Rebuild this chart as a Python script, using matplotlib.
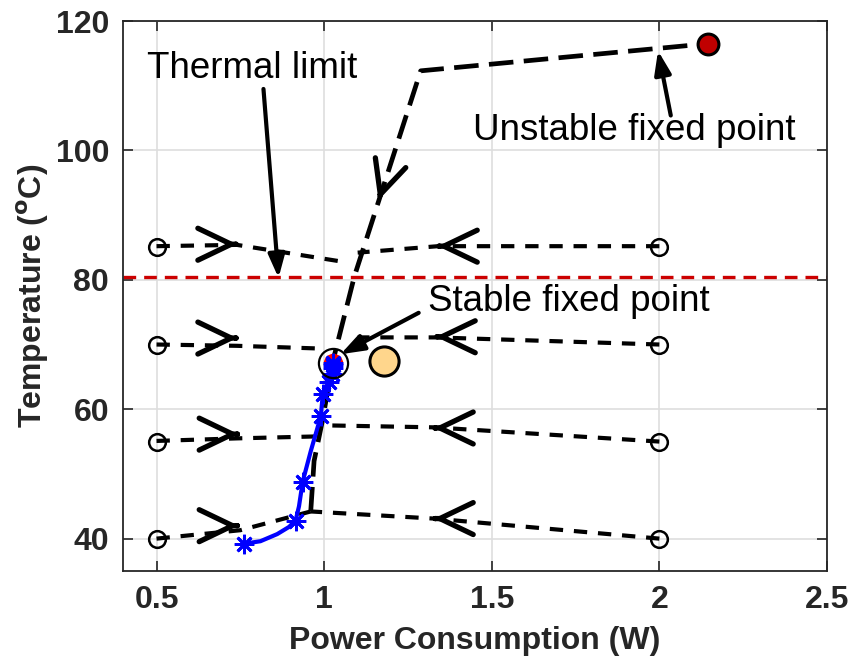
import numpy as np
import matplotlib.pyplot as plt

plt.rcParams['font.family'] = ['Liberation Sans', 'DejaVu Sans']

# 初始点温度 (左侧 0.5W, 右侧 2W)
start_T = [85, 70, 55, 40]
left_P0 = 0.5
right_P0 = 2.0

# 各条轨迹折线 (功耗 W, 温度 C)
left_P = [[0.5, 0.74, 1.055], [0.5, 0.74, 0.975], [0.5, 0.745, 0.98], [0.5, 0.75, 0.96]]
left_T = [[85.2, 85.4, 82.8], [70.0, 69.8, 69.4], [55.1, 55.5, 55.8], [40.0, 41.3, 44.2]]
right_P = [[2.0, 1.34, 1.10], [2.0, 1.333, 1.10], [2.0, 1.327, 1.01], [2.0, 1.327, 0.96]]
right_T = [[85.2, 85.2, 84.2], [70.0, 71.1, 71.1], [55.0, 57.2, 57.5], [40.0, 43.1, 44.2]]

# 箭头位置
left_tip_P = [0.741, 0.741, 0.745, 0.745]
left_tip_T = [85.5, 71.0, 56.15, 42.0]
right_tip_P = [1.339, 1.333, 1.327, 1.327]
right_tip_T = [85.2, 71.2, 57.1, 43.1]

# 稳定点到不稳定点的曲线
null_P = [0.96, 0.97, 0.996, 1.025, 1.09, 1.288, 2.145]
null_T = [44.2, 52.0, 58.5, 67.2, 80.5, 112.3, 116.5]
null_tip = (1.162, 92.3)

# 蓝色实际轨迹
blue_P = [0.76, 0.81, 0.86, 0.895, 0.915, 0.925, 0.936, 0.96, 0.99, 0.996, 1.015, 1.022, 1.026]
blue_T = [39.2, 39.6, 40.7, 41.8, 42.8, 45.0, 48.8, 53.5, 58.9, 62.3, 64.2, 65.5, 66.9]
blue_mark_P = [0.76, 0.915, 0.936, 0.99, 0.996, 1.015, 1.022, 1.025, 1.026, 1.026]
blue_mark_T = [39.2, 42.8, 48.8, 58.9, 62.3, 64.2, 65.5, 66.4, 66.9, 67.1]

stable_pt = (1.025, 67.2)
unstable_pt = (2.145, 116.5)
orange_pt = (1.178, 67.4)
thermal_limit = 80.5

fig = plt.figure(figsize=(8.53, 6.63), dpi=100)
ax = fig.add_axes([0.1442, 0.1388, 0.8253, 0.8295])

dash_kw = dict(color='k', lw=3.0, dashes=(3.2, 2.6), solid_capstyle='butt')
for i in range(len(start_T)):
    ax.plot(left_P[i], left_T[i], **dash_kw, zorder=3)
    ax.plot(right_P[i], right_T[i], **dash_kw, zorder=3)
    ax.plot(left_P0, start_T[i], 'o', ms=12, mfc='none', mec='k', mew=1.8, zorder=4)
    ax.plot(right_P0, start_T[i], 'o', ms=12, mfc='none', mec='k', mew=1.8, zorder=4)

ax.plot(null_P, null_T, color='k', lw=3.4, dashes=(5.2, 2.2), zorder=3)

ax.axhline(thermal_limit, color='#CC0000', lw=2.4, dashes=(3.8, 2.4), zorder=2)


def chevron(tip, dx, dy):
    ax.annotate('', xy=tip, xytext=(tip[0] - dx, tip[1] - dy),
                arrowprops=dict(arrowstyle='->,head_length=2.4,head_width=1.15',
                                lw=3.8, color='k', shrinkA=0, shrinkB=0,
                                mutation_scale=10, capstyle='round', joinstyle='round'),
                zorder=5)


for i in range(len(start_T)):
    chevron((left_tip_P[i], left_tip_T[i]), 0.005, 0)
    chevron((right_tip_P[i], right_tip_T[i]), -0.005, 0)
chevron(null_tip, (1.09 - 1.288) * 0.03, (80.5 - 112.3) * 0.03)

# 蓝色轨迹
ax.plot(stable_pt[0], stable_pt[1], 'o', ms=13, color='#FF0000', zorder=5)
ax.plot(blue_P, blue_T, color='#0000FF', lw=3.0, zorder=6)
ax.plot(blue_mark_P, blue_mark_T, ls='none', marker=(8, 2, 0), ms=14, mew=2.0,
        color='#0000FF', zorder=6)
ax.plot(stable_pt[0], stable_pt[1], 'o', ms=21, mfc='none', mec='k', mew=1.6, zorder=7)

ax.plot(orange_pt[0], orange_pt[1], 'o', ms=21, mfc='#FFD68C', mec='k', mew=2.2, zorder=7)
ax.plot(unstable_pt[0], unstable_pt[1], 'o', ms=15, mfc='#C00000', mec='k', mew=2.2, zorder=7)

# 标注
arrow_kw = dict(arrowstyle='-|>,head_length=1.4,head_width=0.5', lw=3.0, color='k',
                shrinkA=0, shrinkB=0, mutation_scale=10)
ax.annotate('', xy=(0.864, 80.3), xytext=(0.819, 109.5), arrowprops=arrow_kw, zorder=8)
ax.annotate('', xy=(1.996, 115.4), xytext=(2.034, 105.4), arrowprops=arrow_kw, zorder=8)
ax.annotate('', xy=(1.049, 68.5), xytext=(1.282, 74.9), arrowprops=arrow_kw, zorder=8)
ax.text(0.473, 112.6, 'Thermal limit', fontsize=26.5, ha='left', va='center')
ax.text(1.924, 103.1, 'Unstable fixed point', fontsize=26.5, ha='center', va='center')
ax.text(1.309, 76.6, 'Stable fixed point', fontsize=26.5, ha='left', va='center')

ax.set_xlim(0.4, 2.5)
ax.set_ylim(35, 120)
ax.set_xticks([0.5, 1, 1.5, 2, 2.5])
ax.set_xticklabels(['0.5', '1', '1.5', '2', '2.5'])
ax.set_yticks([40, 60, 80, 100, 120])
ax.grid(True, color='#DEDEDE', lw=1.2)
ax.set_axisbelow(True)
ax.tick_params(direction='in', length=7, width=1.2, top=True, right=True,
               colors='#262626', labelsize=23, pad=10)
for lab in ax.get_xticklabels() + ax.get_yticklabels():
    lab.set_fontweight('bold')
for s in ax.spines.values():
    s.set_color('#262626')
    s.set_linewidth(1.3)

ax.set_xlabel('Power Consumption (W)', fontsize=23, fontweight='bold', color='#262626', labelpad=8)
ax.set_ylabel(r'Temperature ($\mathbf{^{o}}$C)', fontsize=23, fontweight='bold', color='#262626', labelpad=3)

fig.savefig('out.png', dpi=100)
